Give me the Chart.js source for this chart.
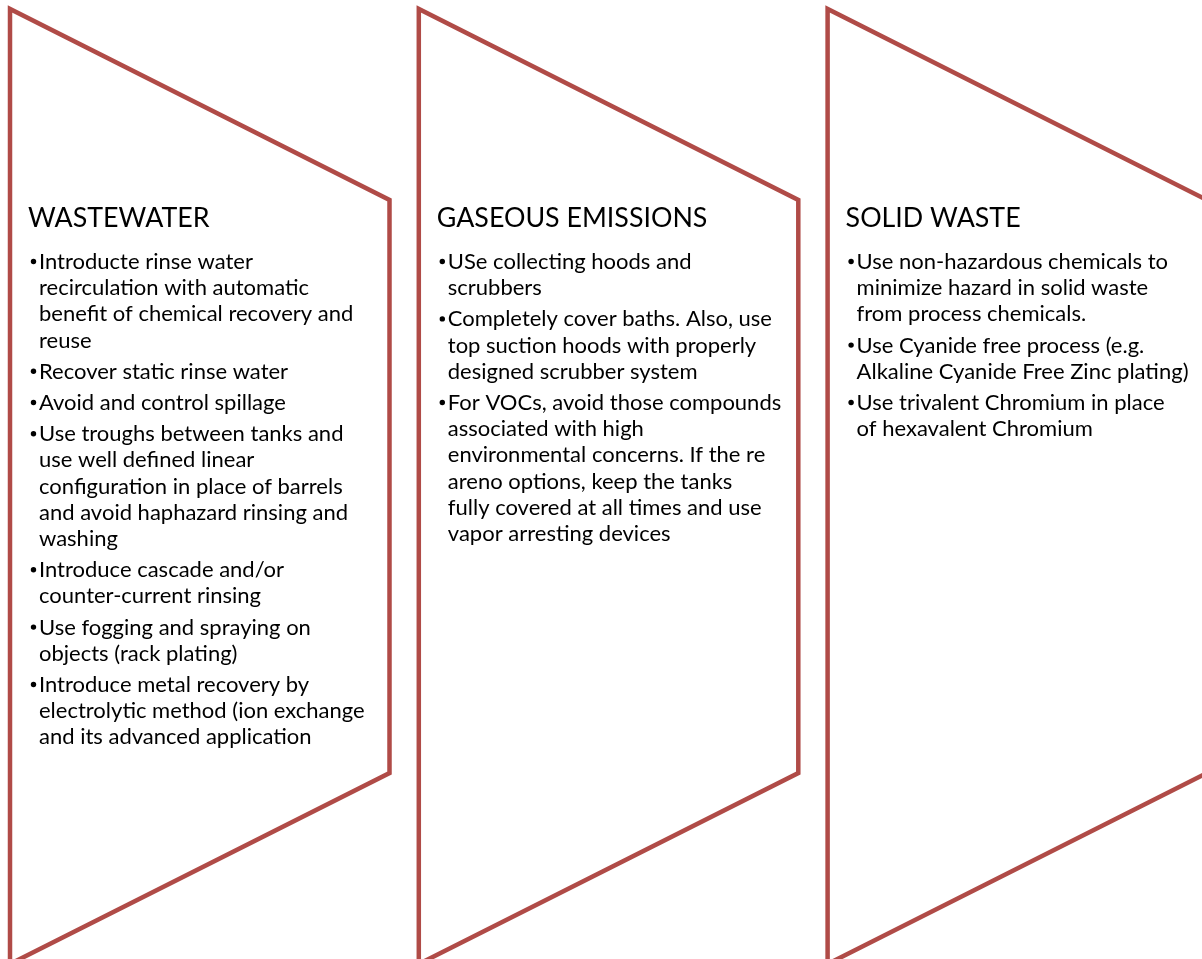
<!DOCTYPE html>
<html>
<head>
<meta charset="utf-8">
<script src="https://cdn.jsdelivr.net/npm/chart.js@4.4.0/dist/chart.umd.min.js"></script>
<style>
  html, body { margin: 0; padding: 0; background: #fff; }
  #wrap { width: 1202px; height: 959px; }
</style>
</head>
<body>
<div id="wrap"><canvas id="diagram"></canvas></div>
<script>
// panel titles
const categories = ['WASTEWATER', 'GASEOUS EMISSIONS', 'SOLID WASTE'];

// bullet items, already broken into lines as in the original
const wastewaterItems = [
    ['Introducte rinse water', 'recirculation with automatic', 'benefit of chemical recovery and', 'reuse'],
    ['Recover static rinse water'],
    ['Avoid and control spillage'],
    ['Use troughs between tanks and', 'use well defined linear', 'configuration in place of barrels', 'and avoid haphazard rinsing and', 'washing'],
    ['Introduce cascade and/or', 'counter-current rinsing'],
    ['Use fogging and spraying on', 'objects (rack plating)'],
    ['Introduce metal recovery by', 'electrolytic method (ion exchange', 'and its advanced application']
];
const gaseousItems = [
    ['USe collecting hoods and', 'scrubbers'],
    ['Completely cover baths. Also, use', 'top suction hoods with properly', 'designed scrubber system'],
    ['For VOCs, avoid those compounds', 'associated with high', 'environmental concerns. If the re', 'areno options, keep the tanks', 'fully covered at all times and use', 'vapor arresting devices']
];
const solidItems = [
    ['Use non-hazardous chemicals to', 'minimize hazard in solid waste', 'from process chemicals.'],
    ['Use Cyanide free process (e.g.', 'Alkaline Cyanide Free Zinc plating)'],
    ['Use trivalent Chromium in place', 'of hexavalent Chromium']
];
const panelItems = [wastewaterItems, gaseousItems, solidItems];

// chevron geometry (page units = pixels of the 1202x959 page)
const panelLeft = 10, panelStep = 408.8, panelWidth = 379.5;
const topY = 9, shoulderY = 200, lowerY = 773, bottomY = 964;
const lineColor = '#b04b47';

function chevron(i) {
    const x0 = panelLeft + i * panelStep;
    const x1 = x0 + panelWidth;
    return [
        {x: x0, y: topY}, {x: x1, y: shoulderY}, {x: x1, y: lowerY},
        {x: x0, y: bottomY}, {x: x0, y: topY}, {x: x1, y: shoulderY}
    ];
}

const titleY = 227, firstLineY = 269, lineH = 26.2, paraGap = 5;

const panelText = {
    id: 'panelText',
    afterDatasetsDraw(chart) {
        const ctx = chart.ctx;
        const xs = chart.scales.x, ys = chart.scales.y;
        ctx.save();
        ctx.fillStyle = '#000';
        ctx.textBaseline = 'alphabetic';
        ctx.textAlign = 'left';
        categories.forEach((title, i) => {
            const left = xs.getPixelForValue(panelLeft + i * panelStep);
            ctx.font = '26.8px Lato';
            ctx.fillText(title, left + 18, ys.getPixelForValue(titleY));
            ctx.font = '22px Lato';
            let base = firstLineY;
            panelItems[i].forEach(item => {
                const by = ys.getPixelForValue(base);
                ctx.beginPath();
                ctx.arc(left + 23.5, by - 7.5, 2.7, 0, Math.PI * 2);
                ctx.fill();
                item.forEach(line => {
                    ctx.fillText(line, left + 29, ys.getPixelForValue(base));
                    base += lineH;
                });
                base += paraGap;
            });
        });
        ctx.restore();
    }
};

const ctx = document.getElementById('diagram').getContext('2d');
new Chart(ctx, {
    type: 'scatter',
    data: {
        datasets: categories.map((c, i) => ({
            label: c,
            data: chevron(i),
            showLine: true,
            borderColor: lineColor,
            borderWidth: 4.5,
            borderJoinStyle: 'miter',
            pointRadius: 0,
            fill: false,
            clip: false
        }))
    },
    options: {
        responsive: true,
        maintainAspectRatio: false,
        animation: false,
        layout: { padding: 0 },
        plugins: { legend: { display: false }, tooltip: { enabled: false } },
        scales: {
            x: { type: 'linear', min: 0, max: 1202, display: false },
            y: { type: 'linear', min: 0, max: 959, reverse: true, display: false }
        }
    },
    plugins: [panelText]
});
</script>
</body>
</html>
